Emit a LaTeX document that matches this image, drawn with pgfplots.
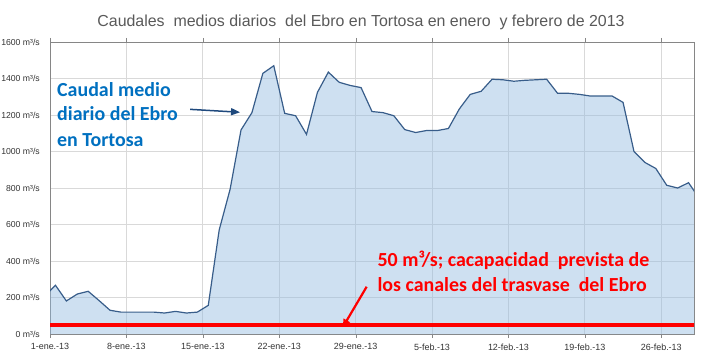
\documentclass[border=0pt]{standalone}
\usepackage{fontspec}
\setmainfont{Liberation Sans}
\newfontfamily\carlito{Carlito}
\usepackage{pgfplots}
\pgfplotsset{compat=1.18}
\usetikzlibrary{arrows.meta}
\definecolor{axisgray}{RGB}{134,134,134}
\definecolor{gridgray}{RGB}{217,217,217}
\definecolor{titlegray}{RGB}{89,89,89}
\definecolor{lineblue}{RGB}{56,93,138}
\definecolor{fillblue}{RGB}{147,187,224}
\definecolor{annblue}{RGB}{0,112,192}
\definecolor{arrblue}{RGB}{31,73,125}
\definecolor{annred}{RGB}{255,0,0}
\pgfplotstableread{
d v
-1 207
0 267
1 181
2 219
3 234
4 183
5 130
6 120
7 120
8 120
9 120
10 115
11 124
12 115
13 120
14 157
15 570
16 793
17 1118
18 1213
19 1428
20 1470
21 1209
22 1196
23 1094
24 1324
25 1435
26 1379
27 1362
28 1350
29 1219
30 1213
31 1196
32 1120
33 1104
34 1115
35 1115
36 1126
37 1233
38 1313
39 1330
40 1396
41 1393
42 1385
43 1390
44 1393
45 1396
46 1319
47 1319
48 1313
49 1304
50 1304
51 1304
52 1269
53 1000
54 940
55 907
56 815
57 800
58 829
59 741
}\caudal
\begin{document}
\begin{tikzpicture}[x=1bp,y=1bp]
\path[use as bounding box] (0,0) rectangle (714,362);
\node[anchor=base, font=\fontsize{16}{19}\selectfont, text=titlegray] at (361,336)
  {Caudales\ \ medios\ diarios\ \ del\ Ebro en Tortosa\ en enero\ \ y\ febrero de 2013};
\begin{axis}[
  at={(50bp,28bp)}, anchor=south west, scale only axis,
  width=644bp, height=292bp,
  xmin=-0.5, xmax=58.5, ymin=0, ymax=1600,
  axis line style={draw=axisgray},
  grid=major, grid style={draw=gridgray, line width=0.8bp},
  xtick={-0.5,6.5,13.5,20.5,27.5,34.5,41.5,48.5,55.5},
  xticklabels={1-ene.-13,8-ene.-13,15-ene.-13,22-ene.-13,29-ene.-13,5-feb.-13,12-feb.-13,19-feb.-13,26-feb.-13},
  ytick={0,200,...,1600},
  yticklabels={0 m³/s,200 m³/s,400 m³/s,600 m³/s,800 m³/s,1000 m³/s,1200 m³/s,1400 m³/s,1600 m³/s},
  tick label style={font=\fontsize{8.7}{10}\selectfont, text=black!80},
  xticklabel style={font=\fontsize{9}{11}\selectfont, yshift=-2bp},
  xtick style={draw=axisgray}, tick align=outside, major tick length=4bp,
  ytick style={draw=none},
  yticklabel style={inner sep=1bp, xshift=-5bp},
]
\addplot[draw=none, fill=fillblue, fill opacity=0.45] table[x=d,y=v] {\caudal} \closedcycle;
\addplot[lineblue, line width=1.2bp, mark=none] table[x=d,y=v] {\caudal};
\addplot[annred, line width=4bp, mark=none] coordinates {(-1,50) (60,50)};
\draw[arrblue, line width=1.5bp, -{Triangle[length=9bp,width=7bp]}] (axis cs:12.33,1231) -- (axis cs:16.91,1215);
\draw[annred, line width=2.2bp, -{Triangle[length=8bp,width=7bp]}] (axis cs:28.51,259) -- (axis cs:26.32,37);
\begin{scope}[every node/.style={anchor=base west, inner sep=0pt, text=annblue, font=\carlito\bfseries\fontsize{20}{24}\selectfont}]
\node at (axis cs:0.14,1304) {Caudal medio};
\node at (axis cs:0.14,1169) {diario del Ebro};
\node at (axis cs:0.14,1026) {en Tortosa};
\end{scope}
\begin{scope}[every node/.style={anchor=base west, inner sep=0pt, text=annred, font=\carlito\bfseries\fontsize{20}{24}\selectfont}]
\node at (axis cs:29.49,369) {50 m³/s; cacapacidad\ \ prevista de};
\node at (axis cs:29.49,232) {los canales del trasvase\ \ del Ebro};
\end{scope}
\end{axis}
\end{tikzpicture}
\end{document}
